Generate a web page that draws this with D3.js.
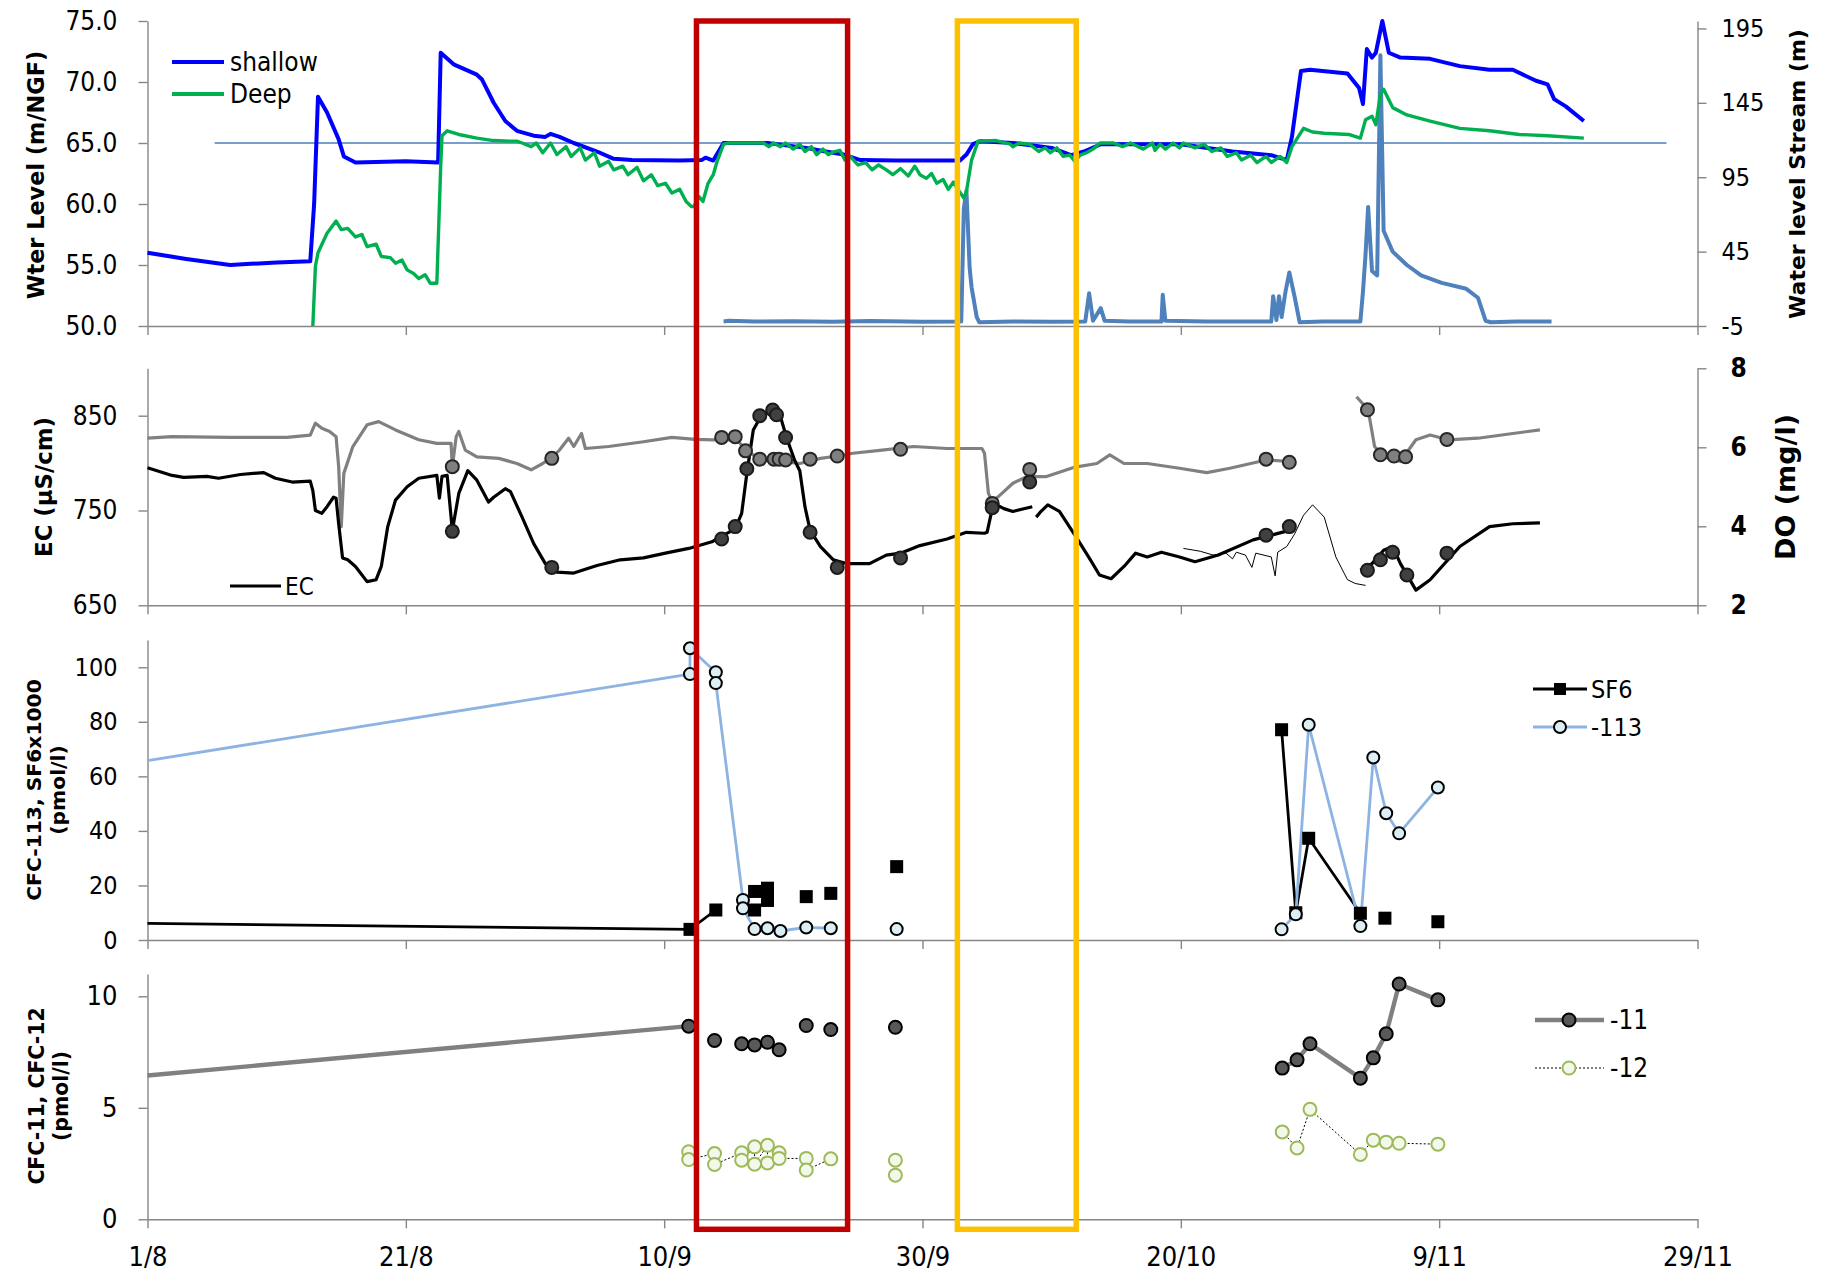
<!DOCTYPE html>
<html>
<head>
<meta charset="utf-8">
<script src="https://cdnjs.cloudflare.com/ajax/libs/d3/7.8.5/d3.min.js"></script>
<style>
  body { margin: 0; background: #fff; }
  svg text { font-family: "DejaVu Sans Condensed", "Liberation Sans Narrow", sans-serif; fill: #000; }
  svg text.title { font-family: "DejaVu Sans", Verdana, sans-serif; font-weight: bold; }
</style>
</head>
<body>
<svg id="chart" width="1824" height="1271"></svg>
<script>
// days counted from 1 Aug
const tickDays = [0, 20, 40, 60, 80, 100, 120];
const redBox = [42.5, 54.2];
const yellowBox = [62.7, 71.9];

const shallow = [[0,56.0],[3,55.5],[6.4,55.0],[8,55.1],[10,55.2],[12.6,55.3],[12.9,60],[13.2,68.8],[13.9,67.5],[14.8,65.3],[15.2,63.9],[16.1,63.4],[20,63.5],[22.5,63.4],[22.7,72.4],[23.7,71.45],[25.5,70.6],[25.9,70.2],[26.8,68.3],[27.7,66.8],[28.6,66.0],[29.9,65.6],[30.8,65.5],[31.2,65.75],[31.9,65.5],[33.0,65.0],[34.8,64.3],[36.1,63.7],[37.5,63.6],[41.2,63.56],[42.9,63.6],[43.2,63.8],[43.8,63.56],[44.6,65.0],[48,65.0],[51,64.6],[52.5,64.3],[53.9,64.05],[55.2,63.6],[58,63.56],[62.9,63.56],[63.4,64.05],[63.9,64.9],[64.5,65.15],[67,65.0],[70,64.6],[71.5,64.0],[72.5,64.3],[73.8,64.9],[80,64.9],[84,64.3],[87,64.0],[88.2,63.6],[88.6,65.5],[89.3,70.9],[90,71.0],[92.9,70.7],[93.8,69.5],[94.1,68.2],[94.4,72.7],[94.8,72.0],[95.1,72.4],[95.6,75.0],[96.1,72.4],[97.0,72.0],[99.3,71.9],[101.6,71.3],[103.9,71.0],[105.7,71.0],[107.5,70.1],[108.4,69.8],[108.9,68.6],[109.8,68.0],[111.2,66.8]];

const deep = [[12.8,50.0],[13.0,54.9],[13.2,56.0],[13.9,57.6],[14.6,58.6],[15.0,57.9],[15.5,58.0],[16.1,57.3],[16.6,57.5],[17.0,56.5],[17.7,56.7],[18.1,55.7],[18.8,55.6],[19.2,55.15],[19.7,55.4],[20.1,54.6],[20.6,54.3],[21.0,53.9],[21.5,54.2],[21.9,53.5],[22.4,53.5],[22.7,63.1],[22.8,65.6],[23.2,66.0],[24.1,65.7],[25.5,65.4],[26.8,65.2],[28.1,65.15],[28.6,65.15],[29.0,65.0],[29.7,64.7],[30.1,65.0],[30.6,64.2],[31.2,65.0],[31.7,64.05],[32.4,64.7],[32.8,63.9],[33.5,64.6],[33.9,63.6],[34.6,64.2],[35.0,63.1],[35.7,63.5],[36.1,62.8],[36.8,63.1],[37.2,62.4],[37.9,63.0],[38.4,61.9],[39.0,62.4],[39.5,61.5],[40.1,61.7],[40.6,60.9],[41.2,61.2],[41.7,60.2],[42.1,59.8],[42.3,59.8],[42.7,60.6],[43.0,60.2],[43.4,61.7],[43.8,62.4],[44.1,63.5],[44.6,64.9],[45.0,65.0],[47.7,65.0],[48.1,64.7],[48.5,65.0],[49.0,64.7],[49.4,65.0],[50.0,64.5],[50.5,64.9],[50.9,64.3],[51.4,64.7],[51.8,64.05],[52.3,64.5],[52.7,64.05],[53.2,64.3],[53.6,64.4],[54.0,63.6],[54.4,63.9],[55.0,63.2],[55.6,63.4],[56.1,62.8],[56.6,63.2],[57.2,62.8],[57.7,62.4],[58.3,62.9],[58.9,62.3],[59.4,63.1],[59.8,62.4],[60.3,62.1],[60.7,62.5],[61.1,61.7],[61.6,62.0],[62.0,61.2],[62.4,61.8],[62.8,61.1],[63.2,60.5],[63.4,61.0],[63.8,63.6],[64.3,65.15],[65.7,65.2],[66.8,64.9],[67.0,64.7],[67.5,65.0],[68.3,64.9],[69.0,64.3],[69.5,64.6],[69.9,64.2],[70.4,64.6],[70.9,63.9],[71.4,64.0],[71.8,63.5],[72.2,64.0],[72.7,64.2],[73.2,64.5],[73.75,65.0],[74.8,65.0],[75.5,64.7],[76.1,65.0],[77.1,64.5],[77.8,65.0],[78.0,64.4],[78.4,64.9],[78.8,64.5],[79.4,65.0],[79.9,64.6],[80.2,65.0],[81.1,64.6],[81.8,64.9],[82.4,64.3],[83.1,64.6],[83.6,63.9],[84.3,64.2],[84.7,63.6],[85.4,64.0],[85.9,63.4],[86.6,63.9],[87.0,63.4],[87.7,63.9],[88.2,63.4],[88.6,64.7],[89.5,66.2],[90.2,65.9],[91.1,65.8],[93.0,65.7],[93.9,65.4],[94.3,66.9],[94.8,67.2],[95.1,66.5],[95.45,69.0],[95.7,69.4],[96.4,67.9],[97.5,67.3],[99.3,66.8],[101.6,66.2],[103.9,66.0],[106.2,65.7],[108.4,65.6],[111.2,65.4]];

const refLevel = [[5.2,65],[117.6,65]];

const stream = [[44.6,-2],[45,-1.5],[47,-2],[50,-1.8],[53,-2.2],[56,-1.7],[60,-2.1],[63.0,-2],[63.2,74],[63.4,86],[63.65,34],[63.8,21],[64.2,1],[64.4,-2.5],[67,-2],[70,-2.2],[72.6,-2],[72.9,17],[73.2,-1.5],[73.8,7],[74.1,-1.5],[76,-2],[78.5,-2],[78.6,16],[78.8,-1.5],[82,-2],[87.0,-2],[87.15,15],[87.4,-1],[87.6,15],[87.8,1],[88.1,18],[88.4,31],[88.8,15],[89.2,-2.5],[91,-2],[93.9,-2],[94.1,18],[94.3,43],[94.5,75],[94.8,32],[95.2,29],[95.45,177],[95.7,59],[96.4,45],[97.5,36],[98.6,29],[100.2,24],[102.1,20],[103.0,14],[103.6,-1.5],[104,-2.5],[106,-2],[108.7,-2]];

const ecSegs = [
  [[0,795],[1.9,787],[2.8,785],[4.6,786],[5.5,784],[7.2,788],[9.0,790],[9.9,784],[11.2,780],[12.6,781],[12.8,771],[13.0,750],[13.5,747],[13.9,754],[14.4,764],[14.6,763],[14.8,736],[15.1,700],[15.5,698],[16.1,691],[17.0,675],[17.7,677],[18.1,691],[18.6,733],[19.2,761],[20.1,775],[21.0,784],[22.4,787],[22.6,763],[22.8,786],[23.2,787],[23.6,729],[24.1,768],[24.8,792],[25.5,782],[26.4,759],[26.8,764],[27.7,773],[28.1,770],[29.0,743],[29.9,715],[30.8,694],[31.7,685],[33.0,684],[34.8,692],[36.6,698],[38.4,700],[40.1,705],[41.9,710],[43.7,717],[44.3,722],[45.0,727],[45.5,731],[46.0,747],[46.4,789],[46.9,835],[47.6,852],[48.5,856],[49.0,849],[49.5,826],[50.1,803],[50.5,792],[50.9,754],[51.3,729],[52.1,712],[53.1,698],[54.1,694],[55.9,694],[57.2,703],[58.3,705],[59.8,713],[61.9,720],[63.4,727],[64.8,726],[65.0,727],[65.4,752],[65.6,757],[66.3,752],[67.0,749],[68.5,754]],
  [[68.8,743],[69.1,748],[69.7,756],[70.6,749],[71.9,722],[73.0,698],[73.7,682],[74.6,678],[75.6,691],[76.5,705],[77.4,701],[78.5,706],[79.9,701],[81.1,696],[82.9,703],[85.6,719],[88.4,729]],
  [[93.9,687],[94.8,694],[95.7,708],[96.4,712],[97.0,694],[98.2,666],[99.3,677],[101.6,712],[103.9,733],[105.7,736],[107.8,737]]
];
const ecThin = [[80.2,710],[81.5,707],[82.5,703],[83.5,705],[84,699],[84.3,706],[85,703],[85.5,690],[85.8,705],[87.0,701],[87.3,681],[87.5,706],[88.2,712],[88.8,725],[89.5,745],[90.2,756],[91.1,743],[92.0,701],[92.9,677],[93.5,673],[94.3,671]];
const ecPts = [[23.6,728],[31.3,690],[44.45,720],[45.5,733],[46.4,794],[47.4,850],[48.4,856],[48.7,851],[49.4,827],[51.3,727],[53.4,690],[58.3,700],[65.4,753],[68.3,780],[86.6,724],[88.4,733],[94.45,687],[95.45,698],[96.4,706],[97.5,682],[100.6,705]];

const doSegs = [
  [[0,6.23],[1.9,6.27],[6.4,6.25],[10.8,6.25],[12.6,6.31],[13.0,6.61],[13.5,6.48],[14.1,6.40],[14.6,6.27],[14.8,5.51],[15.0,3.99],[15.2,5.34],[15.9,6.02],[17.0,6.57],[17.9,6.65],[19.2,6.44],[21.0,6.19],[22.4,6.10],[23.5,6.10],[23.6,5.51],[23.9,6.27],[24.1,6.40],[24.6,5.93],[25.5,5.76],[27.2,5.72],[28.6,5.59],[29.7,5.43],[30.6,5.59],[31.3,5.75],[31.9,5.93],[32.6,6.23],[33.0,6.02],[33.6,6.35],[33.9,5.97],[35.7,6.02],[38.4,6.14],[40.6,6.25],[42.4,6.20],[43.8,6.19],[45.6,6.19],[46.4,5.93],[47.4,5.68],[49.0,5.64],[50.5,5.59],[52.1,5.72],[53.4,5.78],[54.6,5.85],[56.7,5.92],[59.3,6.02],[61.9,5.97],[64.6,5.97],[64.8,5.85],[65.1,4.84],[65.4,4.62],[66.0,4.79],[67.0,5.09],[68.1,5.26],[69.6,5.26],[71.7,5.49],[73.5,5.59],[74.5,5.81],[75.6,5.59],[77.4,5.59],[79.9,5.47],[82.0,5.36],[83.8,5.47],[86.6,5.68],[88.4,5.64]],
  [[93.6,7.28],[94.5,6.95],[95.0,6.02],[95.7,5.76],[97.0,5.64],[98.2,6.19],[99.3,6.31],[100.7,6.19],[103.0,6.23],[105.7,6.35],[107.8,6.44]]
];
const doPts = [[23.6,5.51],[31.3,5.72],[44.45,6.25],[45.5,6.27],[46.3,5.91],[47.4,5.70],[48.5,5.70],[48.9,5.70],[49.4,5.68],[51.3,5.70],[53.4,5.78],[58.3,5.95],[65.4,4.58],[68.3,5.44],[86.6,5.70],[88.4,5.62],[94.45,6.95],[95.45,5.81],[96.5,5.78],[97.4,5.76],[100.6,6.20]];

// segments joined by a line; single-point segments are unconnected samples
const cfc113Segs = [
  [[0,65.8],[42.0,97.5],[42.0,107.0],[44.0,98.2],[44.0,94.2],[46.1,14.7],[46.1,11.6],[47.0,4.0],[48.0,4.3],[49.0,3.3],[51.0,4.6],[52.9,4.3]],
  [[58.0,4.0]],
  [[87.8,3.9],[88.9,9.4],[89.9,78.9],[93.9,5.1],[94.9,66.9],[95.9,46.5],[96.9,39.1],[99.9,55.9]]
];
const sf6Segs = [
  [[0,6.1],[42.0,3.9],[44.0,11.0]],
  [[47.0,17.8]],[[47.0,11.0]],[[48.0,19.0]],[[48.0,14.5]],[[51.0,15.9]],[[52.9,17.1]],[[58.0,26.9]],
  [[87.8,77.1],[88.9,10.0],[89.9,37.3],[93.9,9.8]],
  [[95.8,8.0]],[[99.9,6.7]]
];
const cfc11Segs = [
  [[0,6.45],[41.9,8.66]],
  [[43.9,8.02]],[[46.0,7.87]],[[47.0,7.82]],[[48.0,7.94]],[[48.9,7.60]],[[51.0,8.69]],[[52.9,8.51]],[[57.9,8.61]],
  [[87.85,6.78],[89.0,7.15],[90.0,7.87],[93.9,6.33],[94.9,7.24],[95.9,8.32],[96.9,10.55],[99.9,9.84]]
];
const cfc12Segs = [
  [[41.9,3.03],[41.9,2.68],[43.9,2.95],[43.9,2.46],[46.0,2.98],[46.0,2.65],[47.0,3.25],[47.0,2.47],[48.0,3.32],[48.0,2.53],[48.9,2.98],[48.9,2.73],[51.0,2.73],[51.0,2.21],[52.9,2.71]],
  [[57.9,2.65]],[[57.9,1.98]],
  [[87.85,3.92],[89.0,3.20],[90.0,4.93],[93.9,2.91],[94.9,3.55],[95.9,3.46],[96.9,3.41],[99.9,3.37]]
];

const base = Date.UTC(2011, 7, 1);
const toDate = d => new Date(base + d * 864e5);

const svg = d3.select('#chart');
const axisColor = '#868686';
const plain = d => String(d);

const x = d3.scaleUtc().domain([toDate(0), toDate(120)]).range([147.5, 1697.5]);

const yLevel = d3.scaleLinear().domain([50, 75]).range([326, 21]);
const yStream = d3.scaleLinear().domain([-5, 200]).range([326, 21]);
const yEC = d3.scaleLinear().domain([650, 900]).range([605.3, 368.3]);
const yDO = d3.scaleLinear().domain([2, 8]).range([605.3, 368.3]);
const y113 = d3.scaleLinear().domain([0, 110]).range([940, 640]);
const y11 = d3.scaleLinear().domain([0, 11]).range([1219.3, 974]);

function styleAxis(g, size) {
  g.select('.domain').attr('stroke', axisColor).attr('stroke-width', 1.4);
  g.selectAll('.tick line').attr('stroke', axisColor).attr('stroke-width', 1.4);
  g.selectAll('.tick text').attr('font-size', size).attr('fill', '#000');
}

function xAxis(yPos, labels) {
  const g = svg.append('g').attr('transform', `translate(0,${yPos})`)
    .call(d3.axisBottom(x).tickValues(tickDays.map(toDate)).tickSize(9).tickSizeOuter(0)
      .tickPadding(19).tickFormat(labels ? d3.utcFormat('%-d/%-m') : ''));
  styleAxis(g, 27);
}

function leftAxis(scale, vals, fmt, size) {
  const g = svg.append('g').attr('transform', 'translate(147.5,0)')
    .call(d3.axisLeft(scale).tickValues(vals).tickFormat(fmt).tickSize(9).tickSizeOuter(0).tickPadding(21));
  styleAxis(g, size);
  return g;
}

function rightAxis(scale, vals, size, pad) {
  const g = svg.append('g').attr('transform', 'translate(1697.5,0)')
    .call(d3.axisRight(scale).tickValues(vals).tickFormat(plain).tickSize(9).tickSizeOuter(0).tickPadding(pad));
  styleAxis(g, size);
  return g;
}

function title(lines, cx, cy, size) {
  const t = svg.append('text').attr('class', 'title')
    .attr('transform', `translate(${cx},${cy}) rotate(-90)`)
    .attr('text-anchor', 'middle').attr('font-size', size);
  lines.forEach((s, i) => {
    t.append('tspan').attr('x', 0).attr('dy', i === 0 ? `${0.35 - (lines.length - 1) * 0.6}em` : '1.2em').text(s);
  });
}

function line(ys) {
  return d3.line().x(d => x(toDate(d[0]))).y(d => ys(d[1]));
}

function path(data, ys, color, width, dash) {
  svg.append('path').datum(data)
    .attr('d', line(ys))
    .attr('fill', 'none')
    .attr('stroke', color)
    .attr('stroke-width', width)
    .attr('stroke-linejoin', 'round')
    .attr('stroke-dasharray', dash || null);
}

function circles(data, ys, fill, stroke, r, sw) {
  svg.append('g').selectAll('circle').data(data).join('circle')
    .attr('cx', d => x(toDate(d[0])))
    .attr('cy', d => ys(d[1]))
    .attr('r', r)
    .attr('fill', fill)
    .attr('stroke', stroke)
    .attr('stroke-width', sw);
}

function squares(data, ys, s) {
  svg.append('g').selectAll('rect').data(data).join('rect')
    .attr('x', d => x(toDate(d[0])) - s / 2)
    .attr('y', d => ys(d[1]) - s / 2)
    .attr('width', s).attr('height', s)
    .attr('fill', '#000');
}

function legendText(tx, ty, s, size) {
  svg.append('text').attr('x', tx).attr('y', ty).attr('dy', '0.36em').attr('font-size', size).text(s);
}

// ---- panel 1: water levels
xAxis(326, false);
leftAxis(yLevel, [50, 55, 60, 65, 70, 75], d3.format('.1f'), 26);
rightAxis(yStream, [-5, 45, 95, 145, 195], 25, 15);
title(['Wter Level (m/NGF)'], 36, 175, 22.4);
title(['Water level Stream (m)'], 1797, 174, 22);

path(refLevel, yLevel, '#4a7ebb', 1.6);
path(stream, yStream, '#4f81bd', 4);
path(shallow, yLevel, '#0000ff', 4);
path(deep, yLevel, '#00b050', 3.4);

svg.append('line').attr('x1', 172).attr('x2', 224).attr('y1', 62).attr('y2', 62).attr('stroke', '#0000ff').attr('stroke-width', 4);
svg.append('line').attr('x1', 172).attr('x2', 224).attr('y1', 94).attr('y2', 94).attr('stroke', '#00b050').attr('stroke-width', 4);
legendText(230, 62, 'shallow', 26);
legendText(230, 94, 'Deep', 26);

// ---- panel 2: EC and DO
xAxis(605.3, false);
leftAxis(yEC, [650, 750, 850], plain, 26);
rightAxis(yDO, [2, 4, 6, 8], 26, 24).selectAll('.tick text').attr('font-weight', 'bold');
title(['EC (µS/cm)'], 44, 487, 22.8);
title(['DO (mg/l)'], 1786, 487, 27);

doSegs.forEach(s => path(s, yDO, '#808080', 3.2));
path(ecThin, yEC, '#000', 1);
ecSegs.forEach(s => path(s, yEC, '#000', 3.2));
circles(doPts, yDO, '#7f7f7f', '#262626', 6.5, 2);
circles(ecPts, yEC, '#404040', '#1a1a1a', 6.5, 2);

svg.append('line').attr('x1', 230).attr('x2', 281).attr('y1', 586).attr('y2', 586).attr('stroke', '#000').attr('stroke-width', 3.2);
legendText(285, 586, 'EC', 24);

// ---- panel 3: CFC-113 and SF6
xAxis(940, false);
leftAxis(y113, [0, 20, 40, 60, 80, 100], plain, 25);
title(['CFC-113, SF6x1000', '(pmol/l)'], 46, 790, 20.3);

sf6Segs.filter(s => s.length > 1).forEach(s => path(s, y113, '#000', 2.8));
cfc113Segs.filter(s => s.length > 1).forEach(s => path(s, y113, '#8db3e2', 2.8));
squares(sf6Segs.flat().filter(d => d[0] > 0), y113, 13);
circles(cfc113Segs.flat().filter(d => d[0] > 0), y113, '#dbeef4', '#000', 6, 2);

svg.append('line').attr('x1', 1533).attr('x2', 1587).attr('y1', 689).attr('y2', 689).attr('stroke', '#000').attr('stroke-width', 2.8);
svg.append('rect').attr('x', 1554).attr('y', 683).attr('width', 12).attr('height', 12).attr('fill', '#000');
legendText(1591, 689, 'SF6', 25);
svg.append('line').attr('x1', 1533).attr('x2', 1587).attr('y1', 727).attr('y2', 727).attr('stroke', '#8db3e2').attr('stroke-width', 2.8);
svg.append('circle').attr('cx', 1560).attr('cy', 727).attr('r', 6).attr('fill', '#dbeef4').attr('stroke', '#000').attr('stroke-width', 2);
legendText(1591, 727, '-113', 25);

// ---- panel 4: CFC-11 and CFC-12
xAxis(1219.3, true);
leftAxis(y11, [0, 5, 10], plain, 27);
title(['CFC-11, CFC-12', '(pmol/l)'], 49, 1096, 20.4);

cfc11Segs.filter(s => s.length > 1).forEach(s => path(s, y11, '#808080', 4.4));
cfc12Segs.filter(s => s.length > 1).forEach(s => path(s, y11, '#000', 1, '2,2'));
circles(cfc11Segs.flat().filter(d => d[0] > 0), y11, '#595959', '#000', 6.5, 2);
circles(cfc12Segs.flat(), y11, '#f4f8ec', '#9bbb59', 6.5, 2);

svg.append('line').attr('x1', 1535).attr('x2', 1604).attr('y1', 1020).attr('y2', 1020).attr('stroke', '#808080').attr('stroke-width', 4.4);
svg.append('circle').attr('cx', 1569).attr('cy', 1020).attr('r', 6.5).attr('fill', '#595959').attr('stroke', '#000').attr('stroke-width', 2);
legendText(1610, 1020, '-11', 26);
svg.append('line').attr('x1', 1535).attr('x2', 1604).attr('y1', 1068).attr('y2', 1068).attr('stroke', '#000').attr('stroke-width', 1).attr('stroke-dasharray', '2,2');
svg.append('circle').attr('cx', 1569).attr('cy', 1068).attr('r', 6.5).attr('fill', '#f4f8ec').attr('stroke', '#9bbb59').attr('stroke-width', 2);
legendText(1610, 1068, '-12', 26);

// ---- highlighted periods
const boxTop = yLevel(75);
const boxBottom = y11(0) + 10;
[[redBox, '#c00000'], [yellowBox, '#ffc000']].forEach(([b, c]) => {
  svg.append('rect')
    .attr('x', x(toDate(b[0])))
    .attr('y', boxTop)
    .attr('width', x(toDate(b[1])) - x(toDate(b[0])))
    .attr('height', boxBottom - boxTop)
    .attr('fill', 'none')
    .attr('stroke', c)
    .attr('stroke-width', 5.5);
});
</script>
</body>
</html>
